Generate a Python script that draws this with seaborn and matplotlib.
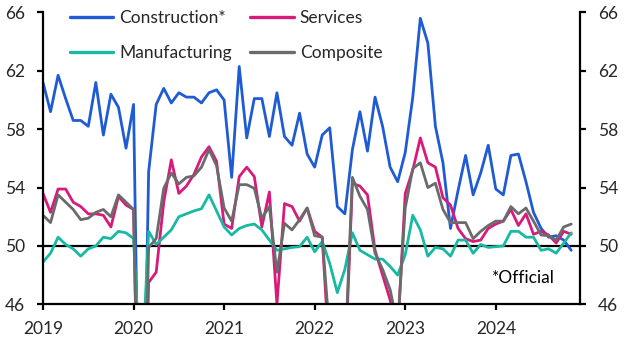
import numpy as np
import pandas as pd
import matplotlib
matplotlib.use("Agg")
import matplotlib.pyplot as plt
import seaborn as sns

# Monthly values, Jan 2019 - Nov 2024
construction = [61.2, 59.2, 61.7, 60.1, 58.6, 58.6, 58.2, 61.2, 57.6, 60.4, 59.5, 56.7,
                59.7, 26.6, 55.1, 59.7, 60.8, 59.8, 60.5, 60.2, 60.2, 59.8, 60.5, 60.7,
                60.0, 54.7, 62.3, 57.4, 60.1, 60.1, 57.5, 60.5, 57.5, 56.9, 59.1, 56.3,
                55.4, 57.6, 58.1, 52.7, 52.2, 56.6, 59.2, 56.5, 60.2, 58.2, 55.4, 54.4,
                56.4, 60.2, 65.6, 63.9, 58.2, 55.7, 51.2, 53.8, 56.2, 53.5, 55.0, 56.9,
                53.9, 53.5, 56.2, 56.3, 54.4, 52.3, 51.2, 50.6, 50.7, 50.4, 49.7]
services = [53.6, 52.3, 53.9, 53.9, 53.0, 52.7, 52.2, 52.2, 52.1, 51.3, 53.4, 52.8,
            52.5, 26.5, 47.5, 48.2, 53.0, 55.9, 53.6, 54.1, 54.9, 56.1, 56.8, 55.8,
            51.5, 51.2, 54.75, 55.4, 54.75, 51.3, 53.7, 46.0, 52.9, 52.7, 51.7, 52.6,
            51.0, 50.6, 42.0, 36.2, 41.4, 54.3, 54.1, 53.5, 49.7, 48.0, 46.3, 44.0,
            53.6, 55.2, 57.4, 55.7, 55.4, 53.3, 52.8, 51.2, 50.5, 50.3, 50.4, 51.2,
            51.5, 51.7, 52.5, 51.4, 52.2, 50.8, 51.0, 50.75, 50.2, 51.0, 50.8]
manufacturing = [48.9, 49.5, 50.6, 50.1, 49.8, 49.3, 49.8, 50.0, 50.6, 50.5, 51.0, 50.9,
                 50.5, 40.3, 51.0, 50.1, 50.6, 51.1, 52.0, 52.2, 52.4, 52.55, 53.5, 52.4,
                 51.3, 50.75, 51.2, 51.4, 51.5, 51.1, 50.4, 49.7, 49.8, 49.9, 49.95, 50.6,
                 49.6, 50.3, 48.8, 46.8, 48.4, 50.9, 49.7, 49.4, 49.1, 49.1, 48.6, 48.0,
                 49.4, 52.1, 51.1, 49.3, 49.9, 49.8, 49.3, 50.4, 50.4, 49.5, 50.1, 49.9,
                 49.95, 50.0, 51.0, 51.0, 50.6, 50.6, 49.7, 49.8, 49.5, 50.2, 50.9]
composite = [52.1, 51.6, 53.5, 53.0, 52.5, 51.8, 51.9, 52.3, 52.5, 52.0, 53.5, 53.0,
             52.5, 27.5, 49.9, 50.5, 53.95, 55.0, 54.25, 54.7, 54.8, 55.4, 56.6, 55.5,
             52.6, 51.7, 54.2, 54.2, 53.95, 51.9, 52.7, 48.2, 51.55, 51.1, 51.8, 52.6,
             50.7, 50.6, 43.9, 37.2, 42.2, 54.7, 53.4, 52.5, 49.5, 48.4, 47.0, 44.5,
             52.6, 55.3, 55.7, 54.0, 54.3, 52.5, 51.6, 51.6, 51.6, 50.5, 51.0, 51.4,
             51.7, 51.7, 52.7, 52.2, 52.6, 51.7, 50.75, 50.7, 50.4, 51.3, 51.5]

series_names = ["Construction*", "Services", "Manufacturing", "Composite"]
colors = ["#1f5bd4", "#d81b7b", "#17b9a3", "#6b6b6b"]
year_ticks = [2019, 2020, 2021, 2022, 2023, 2024]
y_ticks = [46, 50, 54, 58, 62, 66]

n = len(construction)
xpos = 2019 + np.arange(n) / 12.0
frames = []
for name, vals in zip(series_names, [construction, services, manufacturing, composite]):
    frames.append(pd.DataFrame({"x": xpos, "value": vals, "series": name}))
df = pd.concat(frames, ignore_index=True)

sns.set_theme(style="white")
plt.rcParams["font.family"] = ["Lato", "DejaVu Sans"]

fig = plt.figure(figsize=(6.28, 3.51), dpi=100)
ax = fig.add_axes([43 / 628, 1 - 304.3 / 351, (580 - 43) / 628, (304.3 - 12.5) / 351])

sns.lineplot(data=df, x="x", y="value", hue="series", hue_order=series_names,
             palette=colors, linewidth=2.0, ax=ax, legend=True)

ax.axhline(50, color="black", linewidth=1.6, zorder=1.5)

ax.set_xlim(2019, 2024.93)
ax.set_ylim(46, 66)
ax.set_xticks(year_ticks)
ax.set_xticklabels([str(y) for y in year_ticks])
ax.set_yticks(y_ticks)
ax.set_yticklabels([str(v) for v in y_ticks])
ax.set_xlabel("")
ax.set_ylabel("")

for side in ["left", "right", "bottom"]:
    ax.spines[side].set_visible(True)
    ax.spines[side].set_color("black")
    ax.spines[side].set_linewidth(1.6)
ax.spines["top"].set_visible(False)

ax.tick_params(axis="y", which="both", left=True, right=True, labelleft=True, labelright=True,
               direction="out", length=4, width=1.6, color="black", labelsize=12.5, pad=9)
ax.tick_params(axis="x", bottom=True, direction="out", length=4, width=1.6, color="black",
               labelsize=12.5, pad=8)

handles, labels = ax.get_legend_handles_labels()
hmap = dict(zip(labels, handles))
order = ["Construction*", "Manufacturing", "Services", "Composite"]
leg = ax.legend([hmap[k] for k in order], order, ncol=2, frameon=False,
                loc="upper left", bbox_to_anchor=(70 / 628, 1 - 10 / 351),
                bbox_transform=fig.transFigure, borderpad=0, borderaxespad=0,
                handlelength=2.5, handletextpad=0.35, labelspacing=1.1,
                columnspacing=1.05, fontsize=12.5)
for line in leg.get_lines():
    line.set_linewidth(2.4)

ax.text(0.836, 0.09, "*Official", transform=ax.transAxes, ha="left", va="center",
        fontsize=12.5, color="black")

fig.savefig("out.png", dpi=100)
